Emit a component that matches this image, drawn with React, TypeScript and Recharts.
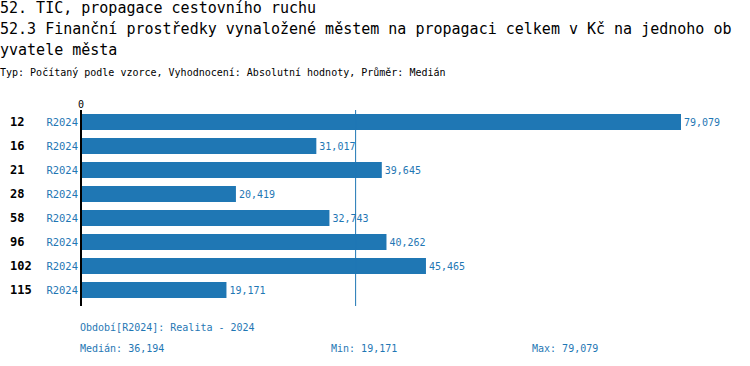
import React from "react";
import { BarChart, Bar, XAxis, YAxis, ReferenceLine, LabelList } from "recharts";

const categories = ["12", "16", "21", "28", "58", "96", "102", "115"];
const periods = ["R2024", "R2024", "R2024", "R2024", "R2024", "R2024", "R2024", "R2024"];
const values = [79079, 31017, 39645, 20419, 32743, 40262, 45465, 19171];
const medianValue = 36194;
const minValue = 19171;
const maxValue = 79079;

const title1 = "52. TIC, propagace cestovního ruchu";
const title2 = "52.3 Finanční prostředky vynaložené městem na propagaci celkem v Kč na jednoho obyvatele města";
const subtitle = "Typ: Počítaný podle vzorce, Vyhodnocení: Absolutní hodnoty, Průměr: Medián";
const periodNote = "Období[R2024]: Realita - 2024";

const data = categories.map((c, i) => ({ id: c, period: periods[i], value: values[i] }));

const BLUE = "#1f77b4";
const MONO = "'DejaVu Sans Mono', 'Liberation Mono', monospace";
const fmt = (v: number) => v.toLocaleString("en-US");

const YTick = (props: any) => {
  const { x, y, index } = props;
  return (
    <g>
      <text x={x - 63} y={y} dy={4} fontFamily={MONO} fontSize={12} fontWeight="bold" fill="#000">
        {categories[index]}
      </text>
      <text x={x + 5} y={y} dy={4} textAnchor="end" fontFamily={MONO} fontSize={10.5} fill={BLUE}>
        {periods[index]}
      </text>
    </g>
  );
};

const XTick = (props: any) => {
  const { x, y, payload } = props;
  return (
    <text x={x} y={y} dy={6} textAnchor="middle" fontFamily={MONO} fontSize={10} fill="#000">
      {payload.value}
    </text>
  );
};

export default function App() {
  return (
    <div style={{ position: "absolute", left: 0, top: 0, width: 750, height: 366, background: "#fff", fontFamily: MONO }}>
      <div style={{ position: "absolute", left: 0, top: -2, width: 738, fontSize: 15, lineHeight: "21px", color: "#000", wordBreak: "break-all" }}>
        <div>{title1}</div>
        <div>{title2}</div>
      </div>
      <div style={{ position: "absolute", left: 0, top: 66, fontSize: 10, lineHeight: "14px", color: "#000", whiteSpace: "nowrap" }}>
        {subtitle}
      </div>
      <BarChart
        width={750}
        height={366}
        data={data}
        layout="vertical"
        margin={{ top: 90, right: 69, bottom: 60, left: 0 }}
        barSize={16}
      >
        <XAxis
          type="number"
          orientation="top"
          domain={[0, maxValue]}
          ticks={[0]}
          height={20}
          axisLine={false}
          tickLine={false}
          tick={<XTick />}
        />
        <YAxis
          type="category"
          dataKey="id"
          width={81}
          padding={{ top: 0, bottom: 4 }}
          axisLine={{ stroke: "#000", strokeWidth: 2 }}
          tickLine={false}
          tick={<YTick />}
          interval={0}
        />
        <Bar dataKey="value" fill={BLUE} isAnimationActive={false}>
          <LabelList
            dataKey="value"
            position="right"
            offset={3}
            formatter={(v: any) => fmt(Number(v))}
            style={{ fontFamily: MONO, fontSize: 10, fill: BLUE }}
          />
        </Bar>
        <ReferenceLine x={medianValue} stroke={BLUE} strokeWidth={1} ifOverflow="extendDomain" />
      </BarChart>
      <div style={{ position: "absolute", left: 80, top: 321, fontSize: 10, lineHeight: "14px", color: BLUE, whiteSpace: "nowrap" }}>
        {periodNote}
      </div>
      <div style={{ position: "absolute", left: 80, top: 342, fontSize: 10, lineHeight: "14px", color: BLUE, whiteSpace: "nowrap" }}>
        Medián: {fmt(medianValue)}
      </div>
      <div style={{ position: "absolute", left: 331, top: 342, fontSize: 10, lineHeight: "14px", color: BLUE, whiteSpace: "nowrap" }}>
        Min: {fmt(minValue)}
      </div>
      <div style={{ position: "absolute", left: 532, top: 342, fontSize: 10, lineHeight: "14px", color: BLUE, whiteSpace: "nowrap" }}>
        Max: {fmt(maxValue)}
      </div>
    </div>
  );
}
